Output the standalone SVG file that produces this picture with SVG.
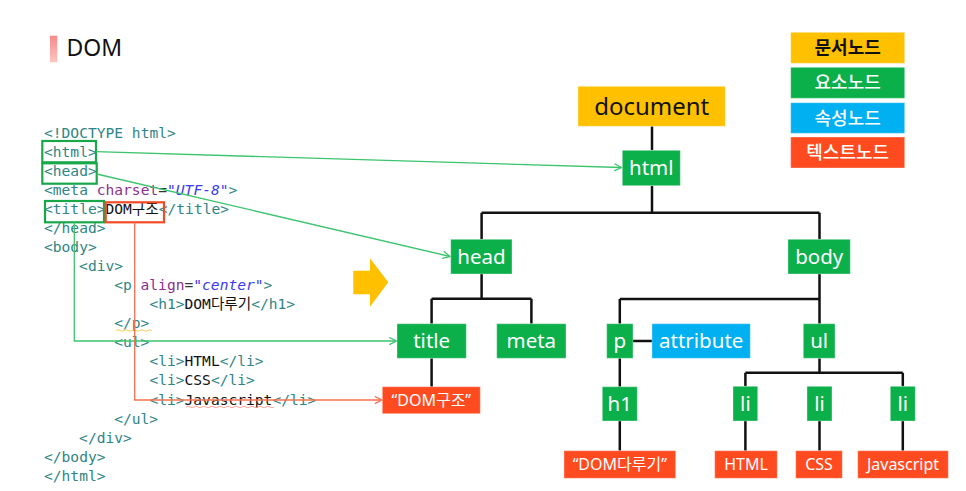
<svg xmlns="http://www.w3.org/2000/svg" width="966" height="491" viewBox="0 0 966 491">
<defs>
<linearGradient id="bar" x1="0" y1="0" x2="0" y2="1"><stop offset="0" stop-color="#f78a8a"/><stop offset="1" stop-color="#fcc6c0"/></linearGradient>
<marker id="ag" viewBox="0 0 10 10" refX="9" refY="5" markerWidth="9" markerHeight="9" markerUnits="userSpaceOnUse" orient="auto"><path d="M1,1 L9,5 L1,9" fill="none" stroke="#3cc46e" stroke-width="1.4"/></marker>
<marker id="ar" viewBox="0 0 10 10" refX="9" refY="5" markerWidth="9" markerHeight="9" markerUnits="userSpaceOnUse" orient="auto"><path d="M1,1 L9,5 L1,9" fill="none" stroke="#f7704f" stroke-width="1.4"/></marker>
</defs>
<style>
.code{font-family:"DejaVu Sans Mono","Noto Sans CJK KR",monospace;font-size:14.6px;fill:#2f8585}
.k{fill:#111}
.at{fill:#8b2f8f}
.eq{fill:#333}
.v{fill:#3a3af0;font-style:italic}
.el{fill:#0bb04b;stroke:#ffffff;stroke-opacity:0.35;stroke-width:1}
.doc{fill:#ffc000;stroke:#ffffff;stroke-opacity:0.35;stroke-width:1}
.att{fill:#00b0f0;stroke:#ffffff;stroke-opacity:0.35;stroke-width:1}
.tx{fill:#ff4b1f;stroke:#ffffff;stroke-opacity:0.35;stroke-width:1}
.lbl{font-family:"Noto Sans","Noto Sans CJK KR",sans-serif;font-size:20.5px;fill:#fff;text-anchor:middle}
.tl{font-family:"Noto Sans","Noto Sans CJK KR",sans-serif;font-size:16px;fill:#fff;text-anchor:middle}
.lg{font-family:"Noto Sans CJK KR","Noto Sans",sans-serif;font-size:18px;fill:#fff;text-anchor:middle;font-weight:500}
.tree{stroke:#111;stroke-width:2.5;fill:none}
.gl{stroke:#3cc46e;stroke-width:1.3;fill:none}
.rl{stroke:#f7704f;stroke-width:1.3;fill:none}
.gb{fill:none;stroke:#18a84a;stroke-width:2.2}
.rb{fill:none;stroke:#f24a25;stroke-width:2.2}
</style>
<rect width="966" height="491" fill="#fff"/>

<g id="heading">
<rect x="50" y="35.7" width="7.3" height="26.6" fill="url(#bar)"/>
<text x="66.5" y="55.7" font-family="Noto Sans, sans-serif" font-size="23" fill="#111">DOM</text>
</g>

<g id="code">
<text class="code" x="44" y="137.5">&lt;!DOCTYPE html&gt;</text>
<text class="code" x="44" y="156.5">&lt;html&gt;</text>
<text class="code" x="44" y="175.6">&lt;head&gt;</text>
<text class="code" x="44" y="194.7">&lt;meta<tspan class="at"> charset</tspan><tspan class="eq">=</tspan><tspan class="v">"UTF-8"</tspan>&gt;</text>
<text class="code" x="44" y="213.8">&lt;title&gt;<tspan class="k">DOM구조</tspan>&lt;/title&gt;</text>
<text class="code" x="44" y="232.8">&lt;/head&gt;</text>
<text class="code" x="44" y="251.9">&lt;body&gt;</text>
<text class="code" x="79.1" y="271">&lt;div&gt;</text>
<text class="code" x="114.2" y="290">&lt;p<tspan class="at"> align</tspan><tspan class="eq">=</tspan><tspan class="v">"center"</tspan>&gt;</text>
<text class="code" x="149.4" y="309.1">&lt;h1&gt;<tspan class="k">DOM다루기</tspan>&lt;/h1&gt;</text>
<text class="code" x="114.2" y="328.2">&lt;/p&gt;</text>
<text class="code" x="114.2" y="347.3">&lt;ul&gt;</text>
<text class="code" x="149.4" y="366.3">&lt;li&gt;<tspan class="k">HTML</tspan>&lt;/li&gt;</text>
<text class="code" x="149.4" y="385.4">&lt;li&gt;<tspan class="k">CSS</tspan>&lt;/li&gt;</text>
<text class="code" x="149.4" y="404.5">&lt;li&gt;<tspan class="k">Javascript</tspan>&lt;/li&gt;</text>
<text class="code" x="114.2" y="423.5">&lt;/ul&gt;</text>
<text class="code" x="79.1" y="442.6">&lt;/div&gt;</text>
<text class="code" x="44" y="461.7">&lt;/body&gt;</text>
<text class="code" x="44" y="480.8">&lt;/html&gt;</text>
<path d="M116,330.5 q2,-1.5 4,0 t4,0 t4,0 t4,0 t4,0 t4,0 t4,0 t4,0 t4,0" fill="none" stroke="#f5c84a" stroke-width="0.9"/>
<path d="M186,407 q2,-1.5 4,0 t4,0 t4,0 t4,0 t4,0 t4,0 t4,0 t4,0 t4,0 t4,0 t4,0 t4,0 t4,0 t4,0 t4,0 t4,0 t4,0 t4,0 t4,0 t4,0 t4,0 t4,0" fill="none" stroke="#f49a8a" stroke-width="0.9"/>
<rect class="gb" x="42.3" y="141" width="53.7" height="21.3"/>
<rect class="gb" x="42.3" y="163.3" width="54.4" height="20.4"/>
<rect class="gb" x="45" y="201" width="59" height="21.3"/>
<rect class="rb" x="105.7" y="202.3" width="58.3" height="20"/>
</g>

<g id="transform-arrow">
<polygon points="353.3,270.7 370,270.7 370,258.3 388.3,282.3 370,306.7 370,294.3 353.3,294.3" fill="#ffc000"/>
</g>

<g id="connectors">
<line class="gl" x1="96" y1="151.7" x2="621.5" y2="167.5" marker-end="url(#ag)"/>
<line class="gl" x1="96.7" y1="174" x2="450" y2="256.5" marker-end="url(#ag)"/>
<polyline class="gl" points="74.3,222.3 74.3,341 396.5,341" marker-end="url(#ag)"/>
<polyline class="rl" points="134.7,222.3 134.7,400 382,400" marker-end="url(#ar)"/>
<path class="tree" d="M652,126.3 V150.3 M652,185.7 V212.7 M481.6,212.7 H819.5 M481.6,212.7 V239.3 M819.5,212.7 V239.3 M481.6,274 V298.7 M431.6,298.7 H531.4 M431.6,298.7 V323.7 M531.4,298.7 V323.7 M431.6,358.3 V386.7 M819.5,274 V323.7 M619.8,299 H819.5 M619.8,299 V323.7 M633,341 H652 M619.8,358.3 V386.7 M619.8,421 V450.7 M819.5,358.3 V372.7 M745.4,372.7 H902.8 M745.4,372.7 V386.3 M902.8,372.7 V386.3 M745.4,421 V450.7 M819.5,421 V450.7 M902.8,421 V450.7"/>
</g>

<g id="legend">
<g id="legend-doc"><rect class="doc" x="790.7" y="32.3" width="114" height="31"/><text class="lg" x="847.7" y="54.3" style="fill:#111;font-weight:700">문서노드</text></g>
<g id="legend-el"><rect class="el" x="790.7" y="67.3" width="114" height="31"/><text class="lg" x="847.7" y="89.3">요소노드</text></g>
<g id="legend-attr"><rect class="att" x="790.7" y="102.7" width="114" height="30.6"/><text class="lg" x="847.7" y="124.5">속성노드</text></g>
<g id="legend-text"><rect class="tx" x="790.7" y="137" width="114" height="31"/><text class="lg" x="847.7" y="159">텍스트노드</text></g>
</g>

<g id="node-document"><rect class="doc" x="578" y="86.3" width="147.3" height="40"/><text class="lbl" x="651.7" y="114.5" style="fill:#111;font-size:24px">document</text></g>
<g id="node-html"><rect class="el" x="622.3" y="150.3" width="58" height="35.4"/><text class="lbl" x="651.3" y="175">html</text></g>
<g id="node-head"><rect class="el" x="450.7" y="239.3" width="61.3" height="34.7"/><text class="lbl" x="481.4" y="263.5">head</text></g>
<g id="node-body"><rect class="el" x="788" y="239.3" width="62.3" height="34.7"/><text class="lbl" x="819.2" y="263.5">body</text></g>
<g id="node-title"><rect class="el" x="397" y="323.7" width="69.3" height="34.6"/><text class="lbl" x="431.7" y="348">title</text></g>
<g id="node-meta"><rect class="el" x="496.7" y="323.7" width="69.3" height="34.6"/><text class="lbl" x="531.3" y="348">meta</text></g>
<g id="node-p"><rect class="el" x="606.7" y="323.7" width="26.3" height="34.6"/><text class="lbl" x="619.8" y="348">p</text></g>
<g id="node-attribute"><rect class="att" x="652" y="323.7" width="98.3" height="34.6"/><text class="lbl" x="701.2" y="348">attribute</text></g>
<g id="node-ul"><rect class="el" x="803.3" y="323.7" width="31.7" height="34.6"/><text class="lbl" x="819.2" y="348">ul</text></g>
<g id="node-text-domstruct"><rect class="tx" x="382.3" y="386.7" width="98" height="27"/><text class="tl" x="431.3" y="406">“DOM구조”</text></g>
<g id="node-h1"><rect class="el" x="602.3" y="386.7" width="35" height="34.3"/><text class="lbl" x="619.8" y="411">h1</text></g>
<g id="node-li1"><rect class="el" x="733" y="386.3" width="24.7" height="34.7"/><text class="lbl" x="745.4" y="411">li</text></g>
<g id="node-li2"><rect class="el" x="807" y="386.3" width="25" height="34.7"/><text class="lbl" x="819.5" y="411">li</text></g>
<g id="node-li3"><rect class="el" x="890.3" y="386.3" width="25" height="34.7"/><text class="lbl" x="902.8" y="411">li</text></g>
<g id="node-text-domhandle"><rect class="tx" x="564" y="450.7" width="111.7" height="27.6"/><text class="tl" x="619.8" y="470.3">“DOM다루기”</text></g>
<g id="node-text-html"><rect class="tx" x="714.7" y="450.7" width="62.6" height="27.6"/><text class="tl" x="746" y="470.3">HTML</text></g>
<g id="node-text-css"><rect class="tx" x="795.7" y="450.7" width="46.6" height="27.6"/><text class="tl" x="819" y="470.3">CSS</text></g>
<g id="node-text-js"><rect class="tx" x="857.7" y="450.7" width="90.6" height="27.6"/><text class="tl" x="903" y="470.3">Javascript</text></g>
</svg>
